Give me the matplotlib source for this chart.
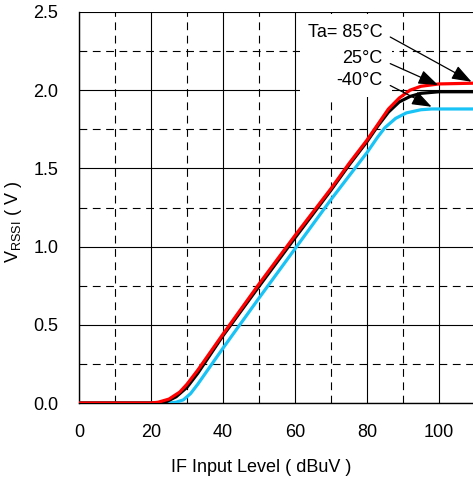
import matplotlib
matplotlib.use("Agg")
import matplotlib.pyplot as plt
from matplotlib.patches import Rectangle
from matplotlib.ticker import MultipleLocator

plt.rcParams['font.family'] = ['Liberation Sans', 'DejaVu Sans']

# RSSI output vs IF input level at three ambient temperatures
x_85 = [0, 20, 22, 25, 28, 30, 33, 40, 50, 60, 70, 75, 80, 83, 86, 89, 92, 95, 100, 110]
v_85 = [0, 0, 0.005, 0.025, 0.07, 0.12, 0.21, 0.44, 0.76, 1.07, 1.37, 1.53, 1.68,
        1.78, 1.88, 1.95, 2.0, 2.025, 2.04, 2.045]

x_25 = [0, 21, 24, 27, 30, 33, 40, 50, 60, 70, 75, 80, 83, 86, 89, 92, 95, 100, 110]
v_25 = [0, 0, 0.005, 0.04, 0.10, 0.19, 0.43, 0.745, 1.055, 1.36, 1.52, 1.67, 1.77,
        1.86, 1.925, 1.96, 1.98, 1.99, 1.99]

x_m40 = [0, 25, 27, 29, 31, 33, 40, 50, 60, 70, 75, 80, 83, 85, 88, 91, 95, 98, 110]
v_m40 = [0, 0, 0.005, 0.02, 0.06, 0.12, 0.35, 0.67, 0.985, 1.30, 1.45, 1.60, 1.70,
         1.76, 1.82, 1.855, 1.875, 1.88, 1.88]

labels = ['Ta= 85°C', '25°C', '-40°C']
arrow_tips = [(109.1, 2.054), (99.8, 2.033), (98.0, 1.894)]

W, H = 473, 482
FS = 13
fig = plt.figure(figsize=(W / 100, H / 100), dpi=100)
ax = fig.add_axes([79 / W, 1 - 403 / H, 1 - 79 / W, (403 - 12) / H])

ax.set_xlim(0, 109.5)
ax.set_ylim(0, 2.5)
ax.xaxis.set_major_locator(MultipleLocator(20))
ax.xaxis.set_minor_locator(MultipleLocator(10))
ax.yaxis.set_major_locator(MultipleLocator(0.5))
ax.yaxis.set_minor_locator(MultipleLocator(0.25))
ax.yaxis.set_major_formatter(lambda v, p: f'{v:.1f}')

ax.grid(True, which='major', color='black', linewidth=0.8, linestyle='-', zorder=1)
ax.grid(True, which='minor', color='black', linewidth=0.8, linestyle=(0, (7, 5)), zorder=1)
ax.set_axisbelow(True)
ax.tick_params(which='both', length=0, labelsize=FS)
ax.tick_params(axis='x', pad=15)
ax.tick_params(axis='y', pad=15)
for s in ['right', 'top']:
    ax.spines[s].set_visible(False)
ax.spines['left'].set_linewidth(1.0)
ax.spines['bottom'].set_linewidth(1.0)

# white box behind the temperature labels
ax.add_patch(Rectangle((61.4, 1.956), 87.0 - 61.4, 2.49 - 1.956,
                       facecolor='white', edgecolor='none', zorder=1.5))

ax.plot(x_m40, v_m40, color='#19C3F5', linewidth=2.3, zorder=3)
ax.plot(x_25, v_25, color='black', linewidth=2.3, zorder=4)
ax.plot(x_85, v_85, color='#FF0000', linewidth=2.3, zorder=5)

text_y = [2.37, 2.2, 2.06]
for lab, ty, tip in zip(labels, text_y, arrow_tips):
    ax.text(84.4, ty, lab, ha='right', va='center', fontsize=FS, zorder=6)
    ax.annotate('', xy=tip, xytext=(86.5, ty - 0.03),
                arrowprops=dict(arrowstyle='-|>,head_length=0.55,head_width=0.2',
                                color='black', lw=0.9, mutation_scale=22,
                                shrinkA=0, shrinkB=0),
                zorder=6)

fig.text(261 / W, 1 - 467 / H, 'IF Input Level ( dBuV )', ha='center', va='center',
         fontsize=FS)
fig.text(13 / W, 1 - 222 / H, r'V$_{\mathregular{RSSI}}$ ( V )', ha='center', va='center',
         rotation=90, fontsize=FS)

fig.savefig('out.png', dpi=100)
